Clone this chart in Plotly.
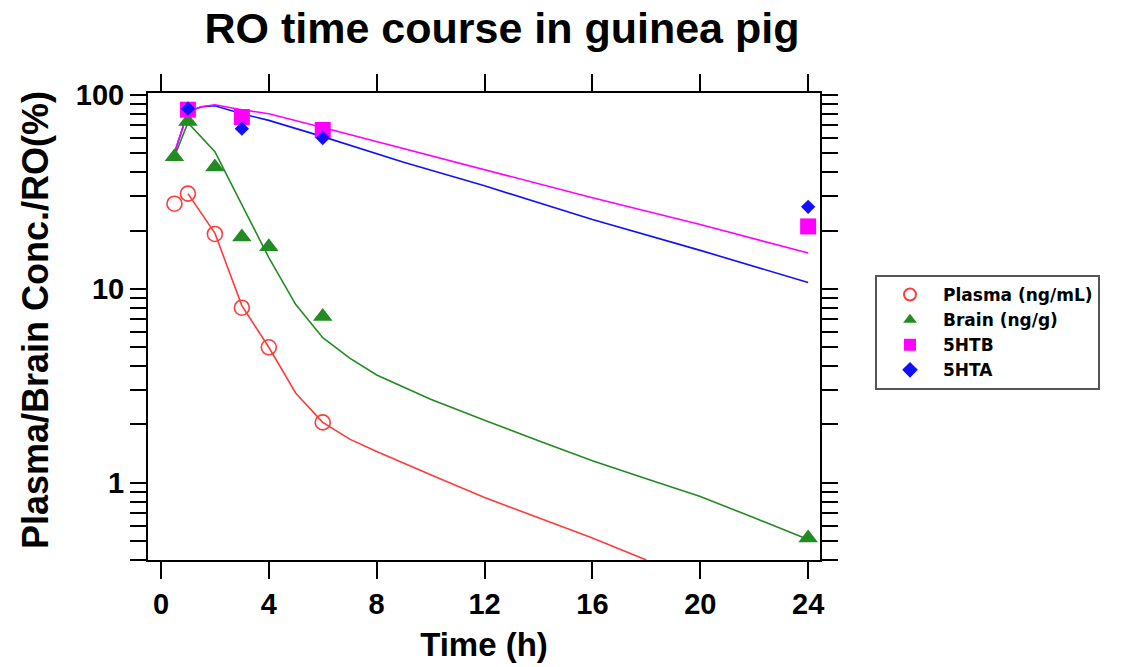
import plotly.graph_objects as go

# ---- observed data ----
t_plasma = [0.5, 1, 2, 3, 4, 6]
plasma_obs = [27.5, 31, 19.2, 8.0, 5.0, 2.05]

t_brain = [0.5, 1, 2, 3, 4, 6, 24]
brain_obs = [48, 73, 42.5, 18.5, 16.5, 7.2, 0.52]

t_ro = [1, 3, 6, 24]
htb_obs = [84, 77, 66, 21]
hta_obs = [85, 67, 60, 26.5]

# ---- model curves ----
t_plasma_fit = [1, 2, 3, 4, 5, 6, 7, 8, 10, 12, 14, 16, 18]
plasma_fit = [31, 19.4, 8.2, 5.0, 2.9, 2.05, 1.68, 1.45, 1.1, 0.84, 0.66, 0.52, 0.40]

t_brain_fit = [0.5, 1, 2, 3, 4, 5, 6, 7, 8, 10, 12, 14, 16, 18, 20, 22, 24]
brain_fit = [48, 72, 51, 27, 14.5, 8.3, 5.6, 4.4, 3.6, 2.7, 2.1, 1.65, 1.3, 1.05, 0.85, 0.66, 0.51]

t_ro_fit = [0.5, 1, 1.5, 2, 3, 4, 6, 9, 12, 16, 20, 24]
htb_fit = [50, 82, 87, 89, 84, 80, 68, 53, 41, 29.5, 21.5, 15.3]
hta_fit = [50, 82, 87, 88, 80, 74, 61, 45, 34, 22.8, 15.8, 10.8]

# ---- ticks ----
x_ticks = [0, 4, 8, 12, 16, 20, 24]
y_tickvals = [0.4, 0.5, 0.6, 0.7, 0.8, 0.9, 1, 2, 3, 4, 5, 6, 7, 8, 9,
              10, 20, 30, 40, 50, 60, 70, 80, 90, 100]
y_ticktext = ["1" if v == 1 else "10" if v == 10 else "100" if v == 100 else "" for v in y_tickvals]

RED = "#FF3B3B"
GREEN = "#228B22"
MAG = "#FF00FF"
BLUE = "#1010FF"
FONT = "Liberation Sans, Arial, sans-serif"
LFONT = "DejaVu Sans, Liberation Sans, sans-serif"

fig = go.Figure()

# model lines
fig.add_trace(go.Scatter(x=t_plasma_fit, y=plasma_fit, mode="lines",
                         line=dict(color=RED, width=1.6), showlegend=False))
fig.add_trace(go.Scatter(x=t_brain_fit, y=brain_fit, mode="lines",
                         line=dict(color=GREEN, width=1.6), showlegend=False))
fig.add_trace(go.Scatter(x=t_ro_fit, y=hta_fit, mode="lines",
                         line=dict(color=BLUE, width=1.6), showlegend=False))
fig.add_trace(go.Scatter(x=t_ro_fit, y=htb_fit, mode="lines",
                         line=dict(color=MAG, width=1.6), showlegend=False))

# observed markers
fig.add_trace(go.Scatter(x=t_plasma, y=plasma_obs, mode="markers", name="Plasma (ng/mL)",
                         marker=dict(symbol="circle-open", size=15, color=RED, line=dict(width=1.6, color=RED))))
fig.add_trace(go.Scatter(x=t_brain, y=brain_obs, mode="markers", name="Brain (ng/g)",
                         marker=dict(symbol="triangle-up", size=17, color=GREEN)))
fig.add_trace(go.Scatter(x=t_ro, y=htb_obs, mode="markers", name="5HTB",
                         marker=dict(symbol="square", size=16, color=MAG)))
fig.add_trace(go.Scatter(x=t_ro, y=hta_obs, mode="markers", name="5HTA",
                         marker=dict(symbol="diamond", size=11, color=BLUE)))

fig.update_layout(
    width=1128, height=667,
    margin=dict(l=148, r=308, t=93, b=107),
    paper_bgcolor="white", plot_bgcolor="white",
    font=dict(family=FONT, color="black"),
    title=dict(text="<b>RO time course in guinea pig</b>", x=502 / 1128, xanchor="center",
               y=1 - 28 / 667, yanchor="middle", yref="container",
               font=dict(size=43, family=FONT, color="black")),
    showlegend=True,
    legend=dict(x=(875 - 148) / 672, y=(560 - 275) / 467, xanchor="left", yanchor="top",
                bordercolor="#555555", borderwidth=2, bgcolor="white",
                font=dict(size=17, family=LFONT, color="black", weight="bold"),
                itemwidth=56, itemsizing="constant", tracegroupgap=0),
    annotations=[dict(text="<b>Plasma/Brain Conc./RO(%)</b>", textangle=-90,
                      xref="paper", yref="paper", x=(35 - 148) / 672, y=(560 - 320) / 467,
                      xanchor="center", yanchor="middle", showarrow=False,
                      font=dict(size=36, family=FONT, color="black"))],
)

fig.update_xaxes(
    range=[-0.48, 24.44], tickvals=x_ticks, ticktext=[str(v) for v in x_ticks],
    ticks="outside", ticklen=17, tickwidth=2, tickcolor="black",
    showline=True, linewidth=2, linecolor="black", mirror="allticks",
    showgrid=False, zeroline=False, automargin=False,
    tickfont=dict(size=29, family=FONT, color="black", weight="bold"),
    title=dict(text="Time (h)", standoff=14, font=dict(size=33, family=FONT, color="black", weight="bold")),
)
fig.update_yaxes(
    type="log", range=[-0.39794, 2.0103], tickvals=y_tickvals, ticktext=y_ticktext,
    ticks="outside", ticklen=16, tickwidth=2, tickcolor="black",
    showline=True, linewidth=2, linecolor="black", mirror="allticks",
    showgrid=False, zeroline=False, automargin=False,
    tickfont=dict(size=29, family=FONT, color="black", weight="bold"),
)

fig.write_html("out.html")
